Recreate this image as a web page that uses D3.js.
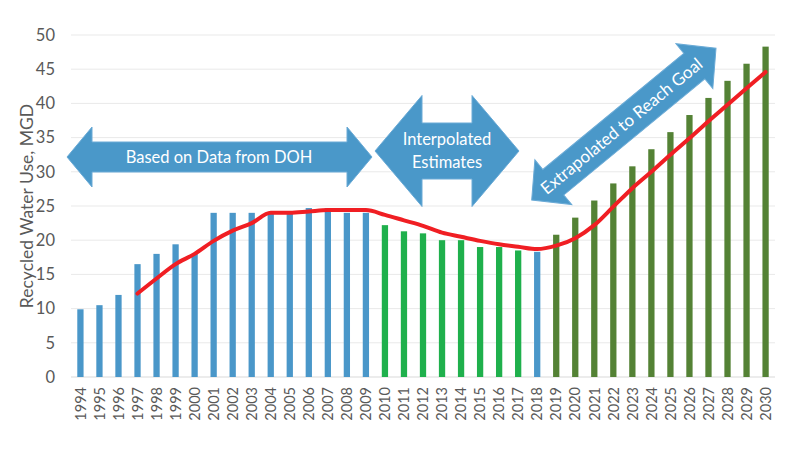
<!DOCTYPE html>
<html><head><meta charset="utf-8">
<script src="https://cdn.jsdelivr.net/npm/d3@7"></script>
<style>
body{margin:0;background:#fff;}
svg{display:block;font-family:Lato,"Open Sans",sans-serif;}
</style></head>
<body><svg id="c" width="800" height="450"></svg>
<script>
const years = ["1994","1995","1996","1997","1998","1999","2000","2001","2002","2003","2004","2005","2006","2007","2008","2009","2010","2011","2012","2013","2014","2015","2016","2017","2018","2019","2020","2021","2022","2023","2024","2025","2026","2027","2028","2029","2030"];
const usage = [9.9,10.5,12,16.5,18,19.4,18,24,24,24,24,24,24.7,24.7,24,24,22.2,21.3,21,20,20,19,19,18.5,18.3,20.8,23.3,25.8,28.3,30.8,33.3,35.8,38.3,40.8,43.3,45.8,48.3];
const source = ["DOH","DOH","DOH","DOH","DOH","DOH","DOH","DOH","DOH","DOH","DOH","DOH","DOH","DOH","DOH","DOH","Interp","Interp","Interp","Interp","Interp","Interp","Interp","Interp","DOH","Extrap","Extrap","Extrap","Extrap","Extrap","Extrap","Extrap","Extrap","Extrap","Extrap","Extrap","Extrap"];
const trend = [null,null,null,12.2,14.4,16.5,18.0,19.9,21.4,22.5,24.0,24.0,24.2,24.4,24.4,24.4,23.7,22.9,22.1,21.1,20.5,19.9,19.4,19.05,18.7,19.2,20.3,22.2,24.9,27.6,30.0,32.5,34.9,37.4,39.8,42.2,44.6];
const yTicks = [0,5,10,15,20,25,30,35,40,45,50];
const yTitle = "Recycled Water Use, MGD";
const arrowLabels = ["Based on Data from DOH", ["Interpolated","Estimates"], "Extrapolated to Reach Goal"];

const colors = {DOH:"#4a97c9", Interp:"#1fb04c", Extrap:"#548235"};
const svg = d3.select("#c");
const L = 71, R = 775, T = 35, B = 377;
const x = d3.scaleBand().domain(years).range([L, R]).paddingInner(0.67).paddingOuter(0.33);
const y = d3.scaleLinear().domain([0, 50]).range([B, T]);

// gridlines
svg.append("g").selectAll("line").data(yTicks).join("line")
  .attr("x1", L).attr("x2", R).attr("y1", d => y(d)).attr("y2", d => y(d))
  .attr("stroke", d => d === 0 ? "#d9d9d9" : "#e9e9e9").attr("stroke-width", 1);

// y axis
const ya = svg.append("g").attr("transform", `translate(${L},0)`)
  .call(d3.axisLeft(y).tickValues(yTicks).tickSize(0).tickPadding(16));
ya.select(".domain").remove();
ya.selectAll("text").attr("font-size", 16.5).attr("fill", "#595959").attr("font-family", "Lato");

// x axis
const xa = svg.append("g").attr("transform", `translate(0,${B})`)
  .call(d3.axisBottom(x).tickSize(0));
xa.select(".domain").remove();
xa.selectAll("text").attr("font-size", 14.5).attr("fill", "#595959").attr("font-family", "Lato")
  .attr("transform", "rotate(-90)").attr("text-anchor", "end")
  .attr("x", -10).attr("y", 0).attr("dy", "0.36em");

// y title
svg.append("text").attr("transform", `translate(33,206) rotate(-90)`)
  .attr("text-anchor", "middle").attr("font-size", 17.5).attr("fill", "#595959").text(yTitle);

// bars
svg.append("g").selectAll("rect").data(years).join("rect")
  .attr("x", d => x(d)).attr("width", x.bandwidth())
  .attr("y", (d, i) => y(usage[i])).attr("height", (d, i) => y(0) - y(usage[i]))
  .attr("fill", (d, i) => colors[source[i]]);

// trend line
const line = d3.line()
  .defined(d => d[1] != null)
  .x(d => x(d[0]) + x.bandwidth() / 2).y(d => y(d[1]))
  .curve(d3.curveMonotoneX);
svg.append("path").datum(years.map((d, i) => [d, trend[i]]))
  .attr("d", line).attr("fill", "none").attr("stroke", "#f01e23")
  .attr("stroke-width", 4).attr("stroke-linejoin", "round").attr("stroke-linecap", "round");

// double arrow helper: local coords along x from 0 to len, centered at y=0
function dblArrow(len, shaftH, headH, headL) {
  const s = shaftH / 2, h = headH / 2;
  return `M0,0 L${headL},${-h} L${headL},${-s} L${len - headL},${-s} L${len - headL},${-h} L${len},0 L${len - headL},${h} L${len - headL},${s} L${headL},${s} L${headL},${h} Z`;
}
const arrowFill = "#4a98c9", arrowStroke = "#6aaad6";

// arrow 1
const a1 = svg.append("g").attr("transform", "translate(67,157)");
a1.append("path").attr("d", dblArrow(305, 30, 60, 25)).attr("fill", arrowFill).attr("stroke", arrowStroke).attr("stroke-width", 1);
a1.append("text").attr("x", 152).attr("y", 0).attr("dy", "0.35em").attr("text-anchor", "middle")
  .attr("fill", "#fff").attr("font-size", 16.5).text(arrowLabels[0]);

// arrow 2
const a2 = svg.append("g").attr("transform", "translate(375,151)");
a2.append("path").attr("d", dblArrow(144, 56, 111, 47)).attr("fill", arrowFill).attr("stroke", arrowStroke).attr("stroke-width", 1);
a2.append("text").attr("x", 72).attr("y", -12).attr("dy", "0.35em").attr("text-anchor", "middle")
  .attr("fill", "#fff").attr("font-size", 16.5).text(arrowLabels[1][0]);
a2.append("text").attr("x", 72).attr("y", 11).attr("dy", "0.35em").attr("text-anchor", "middle")
  .attr("fill", "#fff").attr("font-size", 16.5).text(arrowLabels[1][1]);

// arrow 3 (diagonal)
const x0 = 531.7, y0 = 200, x1 = 716, y1 = 48.3;
const len3 = Math.hypot(x1 - x0, y1 - y0), ang = Math.atan2(y1 - y0, x1 - x0) * 180 / Math.PI;
const a3 = svg.append("g").attr("transform", `translate(${x0},${y0}) rotate(${ang})`);
a3.append("path").attr("d", dblArrow(len3, 33, 58, 28)).attr("fill", arrowFill).attr("stroke", arrowStroke).attr("stroke-width", 1);
a3.append("text").attr("x", len3 / 2 - 3).attr("y", 0).attr("dy", "0.35em").attr("text-anchor", "middle")
  .attr("fill", "#fff").attr("font-size", 17).text(arrowLabels[2]);
</script></body></html>
